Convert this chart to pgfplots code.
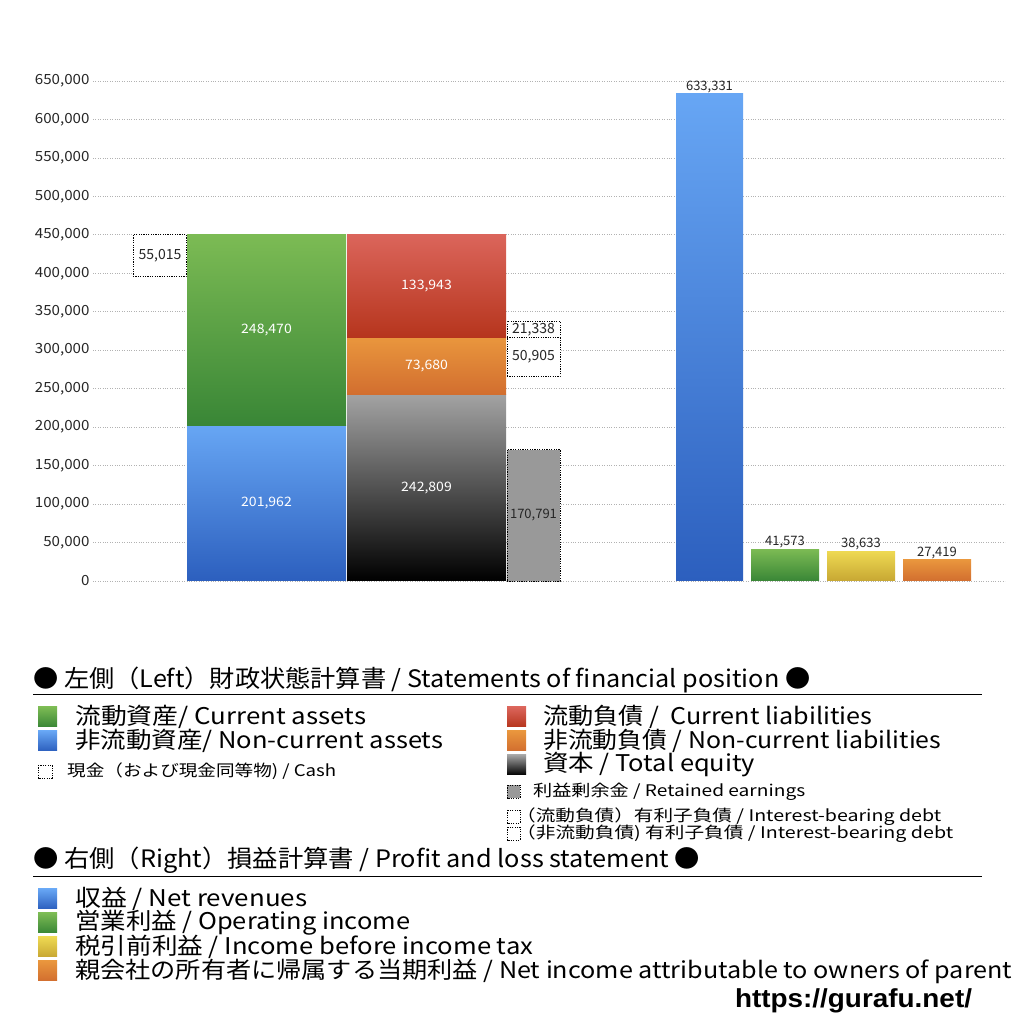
\documentclass[border=0pt]{standalone}
\usepackage{graphicx}
\usepackage{fontspec}
\setmainfont{Noto Sans CJK JP}
\newfontfamily\tickfont[FakeStretch=1.08]{Noto Sans CJK JP}
\newfontfamily\urlfont{Liberation Sans}
\usepackage{pgfplots}
\pgfplotsset{compat=1.18}

\definecolor{gTop}{HTML}{7CBB54}
\definecolor{gBot}{HTML}{398636}
\definecolor{bTop}{HTML}{67A6F4}
\definecolor{bBot}{HTML}{2C5FBE}
\definecolor{rTop}{HTML}{DB655B}
\definecolor{rBot}{HTML}{B6351D}
\definecolor{oTop}{HTML}{E9963D}
\definecolor{oBot}{HTML}{D26E2F}
\definecolor{kTop}{HTML}{A3A3A3}
\definecolor{kBot}{HTML}{000000}
\definecolor{yTop}{HTML}{EED952}
\definecolor{yBot}{HTML}{C7A733}
\definecolor{retained}{HTML}{999999}

\newcommand{\fs}[1]{\fontsize{#1pt}{#1pt}\selectfont}
% legend line squeezed/stretched to the width it has in the original
\newcommand{\fitw}[2]{\resizebox{#1pt}{\height}{#2}}

\begin{document}
\begin{tikzpicture}[
  inbar/.style={font=\tickfont\fs{13}, text=white},
  outbar/.style={font=\fs{13}, text=black!85},
  dbox/.style={draw=black, line width=0.8pt, dash pattern=on 1.2pt off 1.2pt},
  leg/.style={anchor=west, inner sep=0pt, text=black},
]
\path[use as bounding box] (0,0) rectangle (1024pt,1024pt);

\begin{axis}[
  at={(93pt,443pt)}, anchor=south west,
  scale only axis, width=912pt, height=500pt,
  xmin=93, xmax=1005, ymin=0, ymax=650000,
  clip=false, no markers,
  axis line style={draw=none},
  xtick=\empty,
  ytick={0,50000,...,650000},
  major tick length=0pt,
  ymajorgrids,
  major grid style={gray!60, dotted, line width=0.7pt},
  scaled y ticks=false,
  yticklabel style={/pgf/number format/.cd, fixed, precision=0, 1000 sep={,}, assume math mode=true},
  ticklabel style={font=\tickfont\fs{14}, text=black!85},
]
% left: statement of financial position (x in pixel units)
% cash (dashed, beside assets)
\addplot[dbox, fill=white] coordinates {(133,395417) (186,395417) (186,450432) (133,450432)} -- cycle;
% assets
\addplot[draw=none, top color=bTop, bottom color=bBot] coordinates {(187,0) (346,0) (346,201962) (187,201962)} -- cycle;
\addplot[draw=none, top color=gTop, bottom color=gBot] coordinates {(187,201962) (346,201962) (346,450432) (187,450432)} -- cycle;
% liabilities and equity
\addplot[draw=none, top color=kTop, bottom color=kBot] coordinates {(347,0) (506,0) (506,242809) (347,242809)} -- cycle;
\addplot[draw=none, top color=oTop, bottom color=oBot] coordinates {(347,242809) (506,242809) (506,316489) (347,316489)} -- cycle;
\addplot[draw=none, top color=rTop, bottom color=rBot] coordinates {(347,316489) (506,316489) (506,450432) (347,450432)} -- cycle;
% retained earnings, interest-bearing debt
\addplot[dbox, fill=retained] coordinates {(507,0) (560,0) (560,170791) (507,170791)} -- cycle;
\addplot[dbox, fill=white] coordinates {(507,265584) (560,265584) (560,316489) (507,316489)} -- cycle;
\addplot[dbox, fill=white] coordinates {(507,316489) (560,316489) (560,337827) (507,337827)} -- cycle;

% right: profit and loss
\addplot[draw=none, top color=bTop, bottom color=bBot] coordinates {(676,0) (743,0) (743,633331) (676,633331)} -- cycle;
\addplot[draw=none, top color=gTop, bottom color=gBot] coordinates {(751,0) (819,0) (819,41573) (751,41573)} -- cycle;
\addplot[draw=none, top color=yTop, bottom color=yBot] coordinates {(827,0) (895,0) (895,38633) (827,38633)} -- cycle;
\addplot[draw=none, top color=oTop, bottom color=oBot] coordinates {(903,0) (971,0) (971,27419) (903,27419)} -- cycle;

% value labels
\node[outbar, font=\fs{14}] at (axis cs:160,422924) {55,015};
\node[inbar] at (axis cs:266.5,326197) {248,470};
\node[inbar] at (axis cs:266.5,100981) {201,962};
\node[inbar] at (axis cs:426.5,383460) {133,943};
\node[inbar] at (axis cs:426.5,279649) {73,680};
\node[inbar] at (axis cs:426.5,121404) {242,809};
\node[outbar, font=\fs{14}] at (axis cs:533.5,327158) {21,338};
\node[outbar, font=\fs{14}] at (axis cs:533.5,291036) {50,905};
\node[outbar] at (axis cs:533.5,85395) {170,791};
\node[outbar, anchor=south, inner sep=1pt] at (axis cs:709.5,633331) {633,331};
\node[outbar, anchor=south, inner sep=1pt] at (axis cs:785,41573) {41,573};
\node[outbar, anchor=south, inner sep=1pt] at (axis cs:861,38633) {38,633};
\node[outbar, anchor=south, inner sep=1pt] at (axis cs:937,27419) {27,419};
\end{axis}

% legend: statement of financial position
\node[leg, font=\fs{24}] at (33pt,344pt) {\fitw{777}{● 左側（Left）財政状態計算書 / Statements of financial position ●}};
\draw[line width=0.8pt] (33pt,330pt) -- (982pt,330pt);

\shade[top color=gTop, bottom color=gBot] (38pt,317pt) rectangle (57pt,297pt);
\node[leg, font=\fs{23}] at (75pt,307pt) {\fitw{291}{流動資産/ Current assets}};
\shade[top color=bTop, bottom color=bBot] (38pt,293pt) rectangle (57pt,273pt);
\node[leg, font=\fs{23}] at (75pt,283pt) {\fitw{368}{非流動資産/ Non-current assets}};
\draw[dbox, line width=0.6pt] (38pt,259pt) rectangle (52pt,246pt);
\node[leg, font=\fs{16}] at (67pt,253pt) {\fitw{269}{現金（および現金同等物) / Cash}};

\shade[top color=rTop, bottom color=rBot] (507pt,317pt) rectangle (526pt,297pt);
\node[leg, font=\fs{23}] at (543pt,307pt) {\fitw{329}{流動負債 /\ \ Current liabilities}};
\shade[top color=oTop, bottom color=oBot] (507pt,293pt) rectangle (526pt,273pt);
\node[leg, font=\fs{23}] at (543pt,283pt) {\fitw{398}{非流動負債 / Non-current liabilities}};
\shade[top color=kTop, bottom color=kBot] (507pt,269pt) rectangle (526pt,249pt);
\node[leg, font=\fs{23}] at (543pt,259pt) {\fitw{212}{資本 / Total equity}};
\draw[dbox, line width=0.6pt, fill=retained] (507pt,239pt) rectangle (520pt,226pt);
\node[leg, font=\fs{16}] at (533pt,232pt) {\fitw{272}{利益剰余金 / Retained earnings}};
\draw[dbox, line width=0.6pt] (507pt,214pt) rectangle (520pt,201pt);
\node[leg, font=\fs{16}] at (516pt,207pt) {\fitw{425}{（流動負債）有利子負債 / Interest-bearing debt}};
\draw[dbox, line width=0.6pt] (507pt,197pt) rectangle (520pt,184pt);
\node[leg, font=\fs{16}] at (516pt,190pt) {\fitw{437}{（非流動負債) 有利子負債 / Interest-bearing debt}};

% legend: profit and loss
\node[leg, font=\fs{24}] at (33pt,164pt) {\fitw{667}{● 右側（Right）損益計算書 / Profit and loss statement ●}};
\draw[line width=0.8pt] (33pt,148pt) -- (982pt,148pt);
\shade[top color=bTop, bottom color=bBot] (38pt,135pt) rectangle (57pt,115pt);
\node[leg, font=\fs{23}] at (75pt,125pt) {\fitw{232}{収益 / Net revenues}};
\shade[top color=gTop, bottom color=gBot] (38pt,111pt) rectangle (57pt,91pt);
\node[leg, font=\fs{23}] at (75pt,101pt) {\fitw{335}{営業利益 / Operating income}};
\shade[top color=yTop, bottom color=yBot] (38pt,87pt) rectangle (57pt,67pt);
\node[leg, font=\fs{23}] at (75pt,77pt) {\fitw{458}{税引前利益 / Income before income tax}};
\shade[top color=oTop, bottom color=oBot] (38pt,63pt) rectangle (57pt,43pt);
\node[leg, font=\fs{23}] at (75pt,53pt) {\fitw{937}{親会社の所有者に帰属する当期利益 / Net income attributable to owners of parent}};

\node[font=\urlfont\bfseries\fs{26}] at (853.5pt,23pt) {\fitw{237}{https://gurafu.net/}};
\end{tikzpicture}
\end{document}
